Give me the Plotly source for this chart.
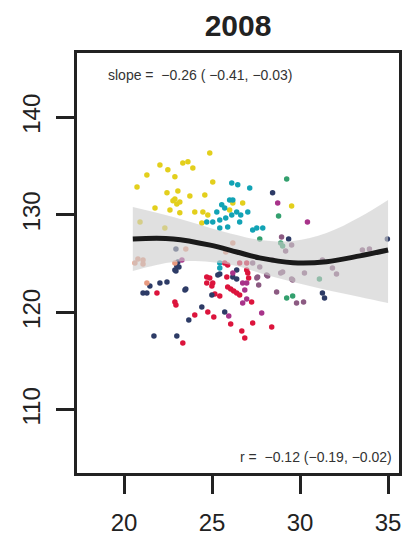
import plotly.graph_objects as go

# ---- data ----
yellow_x = [24.87, 23.63, 23.34, 22.04, 22.49, 23.91, 21.30, 22.89, 25.04, 20.74, 22.44, 23.06, 24.59,
            22.78, 23.00, 23.17, 22.89, 21.76, 22.61, 23.17, 24.02, 24.48, 24.76, 23.74, 26.18, 26.00,
            26.74, 29.52, 24.42, 20.91, 22.32]
yellow_y = [136.36, 135.44, 135.33, 135.13, 134.62, 134.82, 134.10, 133.90, 133.38, 132.87, 132.26, 132.46, 132.05,
            131.44, 131.13, 131.33, 131.64, 130.72, 130.51, 130.21, 130.31, 130.31, 130.00, 131.95, 131.23, 130.50,
            131.23, 130.92, 129.18, 129.28, 128.67]

cyan_x = [26.12, 26.46, 27.14, 25.27, 25.55, 25.72, 26.00, 26.12, 25.78, 25.44, 25.04, 24.70, 26.40, 26.63,
          27.03, 26.57, 25.89, 25.44, 27.31, 27.54, 27.88, 26.18, 25.44, 25.44]
cyan_y = [133.28, 133.08, 132.77, 130.31, 131.03, 130.72, 131.54, 130.00, 129.69, 129.49, 129.28, 129.28, 130.31, 130.00,
          130.31, 129.28, 128.77, 128.67, 128.46, 128.67, 128.67, 131.54, 125.08, 124.56]

red_x = [21.87, 22.89, 22.95, 24.02, 24.76, 25.10, 23.34, 24.70, 25.04, 24.99, 25.44, 25.84, 25.72, 25.89, 26.57,
         26.97, 26.97, 27.03, 27.08, 24.87, 24.70, 25.89, 26.06, 26.23, 26.40, 26.57, 27.25, 26.06, 26.69, 26.86,
         27.31, 28.39, 25.16]
red_y = [122.00, 121.08, 120.77, 119.74, 120.05, 119.54, 116.87, 123.64, 123.03, 122.72, 121.69, 123.64, 125.08, 124.87, 125.08,
         125.08, 124.36, 124.05, 123.54, 123.54, 123.03, 122.62, 122.41, 122.21, 122.00, 121.79, 121.08, 118.82, 118.10, 117.38,
         118.92, 118.51, 121.90]

navy_x = [21.47, 21.08, 21.30, 22.04, 22.44, 22.89, 23.46, 23.68, 24.42, 21.70, 23.00, 24.99, 25.44, 26.40, 25.72,
          28.44, 29.35, 31.27, 31.39, 34.96, 22.95, 23.06, 23.00, 23.12, 22.95, 23.51, 25.33, 26.40, 26.18]
navy_y = [122.72, 122.00, 122.00, 123.03, 123.13, 124.36, 122.31, 119.23, 120.56, 117.59, 117.59, 121.79, 123.95, 123.44, 120.05,
          132.26, 127.54, 122.00, 121.49, 127.54, 126.51, 125.18, 124.77, 124.67, 124.26, 122.41, 123.85, 124.36, 123.64]

purple_x = [28.73, 30.42, 26.74, 26.97, 26.86, 26.97, 26.74, 25.95, 27.82, 23.29, 26.18]
purple_y = [131.23, 129.28, 123.03, 123.03, 122.31, 121.38, 120.97, 119.64, 119.95, 125.38, 124.05]

mauve_x = [27.59, 27.65, 28.67, 29.80, 30.20, 29.52, 29.18, 28.95, 33.54, 33.94, 31.84, 32.07, 30.25, 29.58,
           28.16, 27.54, 27.31, 27.71, 28.44, 29.01, 31.27, 28.10, 28.90, 29.52]
mauve_y = [123.64, 122.82, 122.10, 120.97, 121.08, 126.92, 126.31, 127.74, 126.41, 126.51, 124.56, 123.95, 124.05, 123.33,
           123.74, 123.54, 125.08, 124.67, 125.38, 124.15, 125.38, 123.85, 124.05, 123.44]

green_x = [29.24, 28.78, 27.71, 28.90, 29.01, 29.24, 29.58, 31.10]
green_y = [133.69, 129.90, 127.54, 127.13, 126.82, 121.49, 121.69, 123.44]

salmon_x = [20.62, 20.79, 21.08, 21.08, 23.51, 22.89, 26.18, 25.78, 21.30]
salmon_y = [125.08, 125.49, 125.38, 124.97, 126.51, 125.08, 127.13, 126.21, 123.03]

smooth_x = [20.5, 22.8, 24.9, 26.4, 27.7, 29.6, 31.5, 33.4, 35.0]
smooth_fit = [127.54, 127.54, 126.90, 126.20, 125.60, 125.10, 125.20, 125.80, 126.40]
smooth_lower = [124.26, 125.18, 125.18, 124.77, 124.05, 123.13, 122.31, 121.59, 120.97]
smooth_upper = [130.82, 129.79, 128.67, 127.95, 127.44, 127.33, 128.15, 129.79, 131.54]

x_ticks = [20, 25, 30, 35]
y_ticks = [110, 120, 130, 140]
title_text = "2008"
slope_text = "slope =  \u22120.26 ( \u22120.41, \u22120.03)"
r_text = "r =  \u22120.12 (\u22120.19, \u22120.02)"

groups = [
    (yellow_x, yellow_y, "#e3cf1c"),
    (cyan_x, cyan_y, "#12a3b5"),
    (red_x, red_y, "#dc143c"),
    (navy_x, navy_y, "#2d3b66"),
    (purple_x, purple_y, "#a8338a"),
    (mauve_x, mauve_y, "#8c5a82"),
    (green_x, green_y, "#33a06e"),
    (salmon_x, salmon_y, "#e89a80"),
]

FONT = "Liberation Sans, Arial, sans-serif"

fig = go.Figure()
for gx, gy, col in groups:
    fig.add_trace(go.Scatter(x=gx, y=gy, mode="markers",
                             marker=dict(size=5.5, color=col, line=dict(width=0)),
                             showlegend=False, hoverinfo="skip"))

# confidence band drawn over points
fig.add_trace(go.Scatter(x=smooth_x, y=smooth_upper, mode="lines", line=dict(width=0, shape="spline"),
                         showlegend=False, hoverinfo="skip"))
fig.add_trace(go.Scatter(x=smooth_x, y=smooth_lower, mode="lines", line=dict(width=0, shape="spline"),
                         fill="tonexty", fillcolor="rgba(205,205,205,0.62)",
                         showlegend=False, hoverinfo="skip"))
fig.add_trace(go.Scatter(x=smooth_x, y=smooth_fit, mode="lines",
                         line=dict(width=5, color="#1a1a1a", shape="spline"),
                         showlegend=False, hoverinfo="skip"))

axis_common = dict(showline=True, mirror=True, linecolor="#222", linewidth=3,
                   ticks="outside", ticklen=18, tickwidth=3, tickcolor="#222",
                   showgrid=False, zeroline=False, automargin=False,
                   tickfont=dict(family=FONT, size=24, color="#222"))

fig.update_xaxes(range=[17.33, 35.62], tickvals=x_ticks, ticklabelstandoff=8, **axis_common)
fig.update_yaxes(range=[103.54, 146.6], tickvals=y_ticks, tickangle=-90, ticklabelstandoff=6, **axis_common)

fig.update_layout(
    width=403, height=539,
    margin=dict(l=77, r=4, t=53, b=66),
    paper_bgcolor="white", plot_bgcolor="white",
    title=dict(text="<b>" + title_text + "</b>", x=238 / 403, xanchor="center", y=1 - 25 / 539, yanchor="middle",
               font=dict(family=FONT, size=30, color="#222")),
    annotations=[
        dict(text=slope_text, xref="paper", yref="paper", x=(106 - 77) / 322, y=1 - (75 - 53) / 420,
             xanchor="left", yanchor="middle", showarrow=False,
             font=dict(family=FONT, size=14, color="#333")),
        dict(text=r_text, xref="paper", yref="paper", x=(394 - 77) / 322, y=(473 - 457) / 420,
             xanchor="right", yanchor="middle", showarrow=False,
             font=dict(family=FONT, size=14, color="#333")),
    ],
)

fig.write_html("out.html", config={"displayModeBar": False},
               post_script="document.body.style.margin='0';document.body.style.padding='0';document.body.style.overflow='hidden';")
